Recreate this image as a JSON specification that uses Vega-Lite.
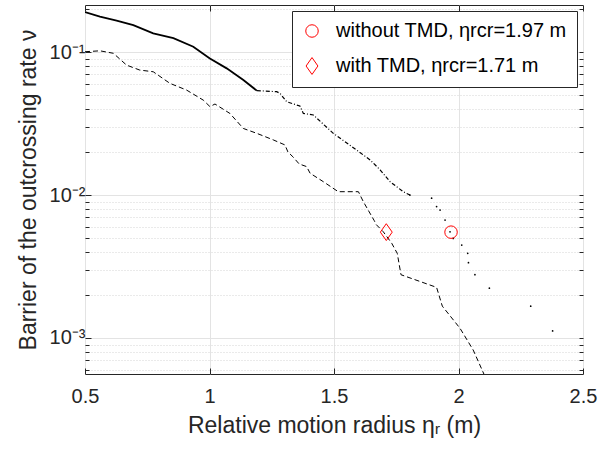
{
  "$schema": "https://vega.github.io/schema/vega-lite/v6.json",
  "width": 498,
  "height": 369,
  "autosize": {"type": "none"},
  "padding": {"left": 85, "top": 5, "right": 30, "bottom": 75},
  "background": "white",
  "config": {
    "view": {"stroke": "#262626", "strokeWidth": 1},
    "font": "Liberation Sans",
    "axis": {"labelColor": "#262626", "titleColor": "#262626", "labelFont": "Liberation Sans", "titleFont": "Liberation Sans", "titleFontWeight": "normal", "tickColor": "#262626"}
  },
  "datasets": {
    "curves": [
      {"s": "without", "x": 0.5, "y": 0.190},
      {"s": "without", "x": 0.56, "y": 0.177},
      {"s": "without", "x": 0.627, "y": 0.166},
      {"s": "without", "x": 0.694, "y": 0.154},
      {"s": "without", "x": 0.774, "y": 0.135},
      {"s": "without", "x": 0.855, "y": 0.125},
      {"s": "without", "x": 0.935, "y": 0.109},
      {"s": "without", "x": 1.0, "y": 0.0904},
      {"s": "without", "x": 1.069, "y": 0.0769},
      {"s": "without", "x": 1.136, "y": 0.0637},
      {"s": "without", "x": 1.19, "y": 0.0537},
      {"s": "without", "x": 1.27, "y": 0.0528},
      {"s": "without", "x": 1.283, "y": 0.0514},
      {"s": "without", "x": 1.31, "y": 0.0449},
      {"s": "without", "x": 1.363, "y": 0.0419},
      {"s": "without", "x": 1.377, "y": 0.0372},
      {"s": "without", "x": 1.417, "y": 0.0363},
      {"s": "without", "x": 1.497, "y": 0.027},
      {"s": "without", "x": 1.591, "y": 0.0206},
      {"s": "without", "x": 1.645, "y": 0.0176},
      {"s": "without", "x": 1.685, "y": 0.0150},
      {"s": "without", "x": 1.725, "y": 0.0124},
      {"s": "without", "x": 1.778, "y": 0.01055},
      {"s": "without", "x": 1.805, "y": 0.0100},
      {"s": "without", "x": 1.892, "y": 0.0095},
      {"s": "without", "x": 1.912, "y": 0.0083},
      {"s": "without", "x": 1.926, "y": 0.00785},
      {"s": "without", "x": 1.946, "y": 0.00668},
      {"s": "without", "x": 1.966, "y": 0.00553},
      {"s": "without", "x": 1.979, "y": 0.00497},
      {"s": "without", "x": 2.013, "y": 0.00447},
      {"s": "without", "x": 2.037, "y": 0.00391},
      {"s": "without", "x": 2.04, "y": 0.00336},
      {"s": "without", "x": 2.066, "y": 0.00277},
      {"s": "without", "x": 2.124, "y": 0.00223},
      {"s": "without", "x": 2.29, "y": 0.00167},
      {"s": "without", "x": 2.378, "y": 0.00112},
      {"s": "with", "x": 0.5, "y": 0.1005},
      {"s": "with", "x": 0.56, "y": 0.102},
      {"s": "with", "x": 0.614, "y": 0.098},
      {"s": "with", "x": 0.667, "y": 0.081},
      {"s": "with", "x": 0.72, "y": 0.0748},
      {"s": "with", "x": 0.774, "y": 0.0728},
      {"s": "with", "x": 0.841, "y": 0.0604},
      {"s": "with", "x": 0.908, "y": 0.0542},
      {"s": "with", "x": 0.975, "y": 0.0461},
      {"s": "with", "x": 1.002, "y": 0.0415},
      {"s": "with", "x": 1.022, "y": 0.0433},
      {"s": "with", "x": 1.082, "y": 0.0372},
      {"s": "with", "x": 1.136, "y": 0.0292},
      {"s": "with", "x": 1.19, "y": 0.027},
      {"s": "with", "x": 1.256, "y": 0.0243},
      {"s": "with", "x": 1.303, "y": 0.0224},
      {"s": "with", "x": 1.315, "y": 0.0200},
      {"s": "with", "x": 1.335, "y": 0.0185},
      {"s": "with", "x": 1.36, "y": 0.0165},
      {"s": "with", "x": 1.39, "y": 0.0158},
      {"s": "with", "x": 1.404, "y": 0.0142},
      {"s": "with", "x": 1.457, "y": 0.0124},
      {"s": "with", "x": 1.517, "y": 0.01055},
      {"s": "with", "x": 1.598, "y": 0.01055},
      {"s": "with", "x": 1.618, "y": 0.00897},
      {"s": "with", "x": 1.662, "y": 0.0066},
      {"s": "with", "x": 1.67, "y": 0.0062},
      {"s": "with", "x": 1.698, "y": 0.00553},
      {"s": "with", "x": 1.732, "y": 0.00459},
      {"s": "with", "x": 1.754, "y": 0.00391},
      {"s": "with", "x": 1.769, "y": 0.00277},
      {"s": "with", "x": 1.912, "y": 0.00226},
      {"s": "with", "x": 1.935, "y": 0.00167},
      {"s": "with", "x": 2.006, "y": 0.00117},
      {"s": "with", "x": 2.059, "y": 0.000824},
      {"s": "with", "x": 2.102, "y": 0.00056},
      {"s": "with", "x": 2.12, "y": 0.00050}
    ],
    "markers": [
      {"case": "without TMD, ηrcr=1.97 m", "x": 1.97, "y": 0.0055},
      {"case": "with TMD, ηrcr=1.71 m", "x": 1.71, "y": 0.0055}
    ]
  },
  "layer": [
    {
      "data": {"name": "curves"},
      "transform": [{"filter": "datum.s == 'without' && datum.x <= 1.2"}],
      "mark": {"type": "line", "color": "#000000", "strokeWidth": 1.8, "clip": true},
      "encoding": {
        "x": {"field": "x", "type": "quantitative",
          "scale": {"domain": [0.5, 2.5], "nice": false, "zero": false},
          "axis": {"orient": "bottom", "values": [0.5, 1, 1.5, 2, 2.5], "grid": true, "gridColor": "#e3e3e3", "ticks": true, "tickSize": -6, "domain": false, "labelFontSize": 20, "labelPadding": 18, "labelFlush": false, "format": "~g", "title": "Relative motion radius ηᵣ (m)", "titleFontSize": 23, "titlePadding": 8}},
        "y": {"field": "y", "type": "quantitative",
          "scale": {"type": "log", "domain": [0.00056, 0.2133], "nice": false},
          "axis": {"orient": "left", "values": [0.001, 0.01, 0.1], "labelExpr": "datum.value > 0.05 ? '10⁻¹' : datum.value > 0.005 ? '10⁻²' : '10⁻³'", "grid": true, "gridColor": "#e3e3e3", "ticks": true, "tickSize": -6, "domain": false, "labelFontSize": 20, "labelPadding": 6, "labelFlush": false, "title": "Barrier of the outcrossing rate ν", "titleFontSize": 23, "titlePadding": 9}}
      }
    },
    {
      "data": {"name": "curves"},
      "transform": [{"filter": "datum.s == 'with'"}],
      "mark": {"type": "line", "color": "#000000", "strokeWidth": 1, "strokeDash": [5, 3], "clip": true},
      "encoding": {
        "x": {"field": "x", "type": "quantitative",
          "scale": {"domain": [0.5, 2.5], "nice": false, "zero": false},
          "axis": {"orient": "top", "values": [0.5, 1, 1.5, 2, 2.5], "grid": false, "labels": false, "ticks": true, "tickSize": -6, "domain": false, "title": null}},
        "y": {"field": "y", "type": "quantitative",
          "scale": {"type": "log", "domain": [0.00056, 0.2133], "nice": false},
          "axis": {"orient": "left", "values": [0.0006, 0.0007, 0.0008, 0.0009, 0.002, 0.003, 0.004, 0.005, 0.006, 0.007, 0.008, 0.009, 0.02, 0.03, 0.04, 0.05, 0.06, 0.07, 0.08, 0.09, 0.2], "grid": true, "gridColor": "#d4d4d4", "gridDash": [1, 2], "labels": false, "ticks": true, "tickSize": -4, "domain": false, "title": null}}
      }
    },
    {
      "data": {"name": "curves"},
      "transform": [{"filter": "datum.s == 'without' && datum.x >= 1.19 && datum.x <= 1.81"}],
      "mark": {"type": "line", "color": "#000000", "strokeWidth": 1.2, "strokeDash": [4, 2, 1, 2], "clip": true},
      "encoding": {
        "x": {"field": "x", "type": "quantitative", "scale": {"domain": [0.5, 2.5], "nice": false, "zero": false}, "axis": null},
        "y": {"field": "y", "type": "quantitative", "scale": {"type": "log", "domain": [0.00056, 0.2133], "nice": false}, "axis": null}
      }
    },
    {
      "data": {"name": "curves"},
      "transform": [{"filter": "datum.s == 'without' && datum.x >= 1.8"}],
      "mark": {"type": "point", "shape": "circle", "filled": true, "color": "#000000", "size": 3, "opacity": 1, "clip": true},
      "encoding": {
        "x": {"field": "x", "type": "quantitative",
          "scale": {"domain": [0.5, 2.5], "nice": false, "zero": false},
          "axis": null},
        "y": {"field": "y", "type": "quantitative",
          "scale": {"type": "log", "domain": [0.00056, 0.2133], "nice": false},
          "axis": {"orient": "right", "values": [0.0006, 0.0007, 0.0008, 0.0009, 0.001, 0.002, 0.003, 0.004, 0.005, 0.006, 0.007, 0.008, 0.009, 0.01, 0.02, 0.03, 0.04, 0.05, 0.06, 0.07, 0.08, 0.09, 0.1, 0.2], "grid": false, "labels": false, "ticks": true, "tickSize": -4, "domain": false, "title": null}}
      }
    },
    {
      "data": {"name": "markers"},
      "mark": {"type": "point", "filled": false, "color": "#ff0000", "strokeWidth": 1, "size": 156, "opacity": 1},
      "encoding": {
        "x": {"field": "x", "type": "quantitative", "scale": {"domain": [0.5, 2.5], "nice": false, "zero": false}, "axis": null},
        "y": {"field": "y", "type": "quantitative", "scale": {"type": "log", "domain": [0.00056, 0.2133], "nice": false}, "axis": null},
        "shape": {"field": "case", "type": "nominal",
          "scale": {"domain": ["without TMD, ηrcr=1.97 m", "with TMD, ηrcr=1.71 m"], "range": ["circle", "M0,-1.35L0.95,0L0,1.35L-0.95,0Z"]},
          "legend": {"orient": "top-right", "offset": 6, "title": null, "strokeColor": "#262626", "fillColor": "white", "padding": 10, "labelFontSize": 20, "labelLimit": 0, "labelColor": "#000000", "labelFont": "Liberation Sans", "labelOffset": 14, "rowPadding": 14, "symbolSize": 156, "symbolStrokeColor": "#ff0000", "symbolFillColor": "transparent", "symbolStrokeWidth": 1, "symbolOpacity": 1}}
      }
    }
  ],
  "resolve": {"axis": {"x": "independent", "y": "independent"}}
}
